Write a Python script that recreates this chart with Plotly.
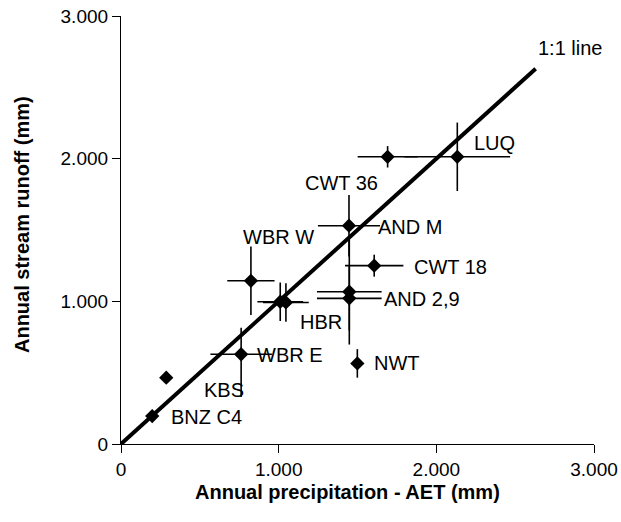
import plotly.graph_objects as go

# Site points (mm): x = precipitation - AET, y = stream runoff
site_x = [198, 287, 762, 824, 1010, 1046, 1446, 1606, 1448, 1448, 1499, 1691, 2133]
site_y = [196, 465, 629, 1144, 997, 992, 1530, 1250, 1067, 1021, 565, 2013, 2013]
err_x = [0, 0, 195, 150, 145, 145, 197, 185, 205, 205, 0, 190, 335]
err_y_plus = [0, 0, 185, 240, 135, 135, 215, 77, 370, 225, 100, 75, 240]
err_y_minus = [0, 0, 300, 240, 135, 135, 215, 77, 370, 225, 100, 75, 240]

# 1:1 reference line
line_x = [0, 2630]
line_y = [0, 2630]

# Site labels and where they sit (data units)
label_text = ["1:1 line", "LUQ", "CWT 36", "AND M", "CWT 18", "AND 2,9",
              "HBR", "WBR W", "WBR E", "NWT", "KBS", "BNZ C4"]
label_x = [2848, 2372, 1400, 1833, 2087, 1907, 1268, 998, 1072, 1749, 653, 544]
label_y = [2776, 2110, 1827, 1523, 1243, 1016, 855, 1453, 624, 566, 378, 191]

tick_vals = [0, 1000, 2000, 3000]
tick_text = ["0", "1.000", "2.000", "3.000"]

FONT = "Arial, Liberation Sans, Helvetica, sans-serif"

fig = go.Figure()

fig.add_trace(
    go.Scatter(
        x=site_x,
        y=site_y,
        mode="markers",
        marker=dict(symbol="diamond", size=11, color="black"),
        error_x=dict(type="data", array=err_x, color="black", thickness=1.6, width=0),
        error_y=dict(type="data", array=err_y_plus, arrayminus=err_y_minus,
                     symmetric=False, color="black", thickness=1.6, width=0),
        showlegend=False,
    )
)

fig.add_trace(
    go.Scatter(
        x=line_x,
        y=line_y,
        mode="lines",
        line=dict(color="black", width=4),
        showlegend=False,
    )
)

for t, lx, ly in zip(label_text, label_x, label_y):
    fig.add_annotation(
        x=lx, y=ly, text=t, showarrow=False,
        font=dict(size=20, color="black", family=FONT),
        xanchor="center", yanchor="middle",
    )

# axis titles placed as paper annotations
fig.add_annotation(
    x=0.478, y=-0.112, xref="paper", yref="paper",
    text="<b>Annual precipitation - AET (mm)</b>", showarrow=False,
    font=dict(size=20, color="black", family=FONT),
    xanchor="center", yanchor="middle",
)
fig.add_annotation(
    x=-0.209, y=0.512, xref="paper", yref="paper",
    text="<b>Annual stream runoff (mm)</b>", showarrow=False, textangle=-90,
    font=dict(size=20, color="black", family=FONT),
    xanchor="center", yanchor="middle",
)

axis_common = dict(
    range=[0, 3000],
    tickvals=tick_vals,
    ticktext=tick_text,
    showgrid=False,
    zeroline=False,
    showline=True,
    linecolor="black",
    linewidth=1.2,
    ticks="outside",
    ticklen=8,
    tickwidth=1.2,
    tickcolor="black",
    tickfont=dict(size=19, color="black", family=FONT),
    automargin=False,
)

fig.update_layout(
    width=621,
    height=522,
    paper_bgcolor="white",
    plot_bgcolor="white",
    margin=dict(l=121, r=27, t=16, b=78),
    xaxis=axis_common,
    yaxis=axis_common,
)

# drop the default page margin so the figure fills the window exactly
fig.write_html(
    "out.html",
    config={"displayModeBar": False},
    post_script="document.body.style.margin='0';document.body.style.overflow='hidden';",
)
